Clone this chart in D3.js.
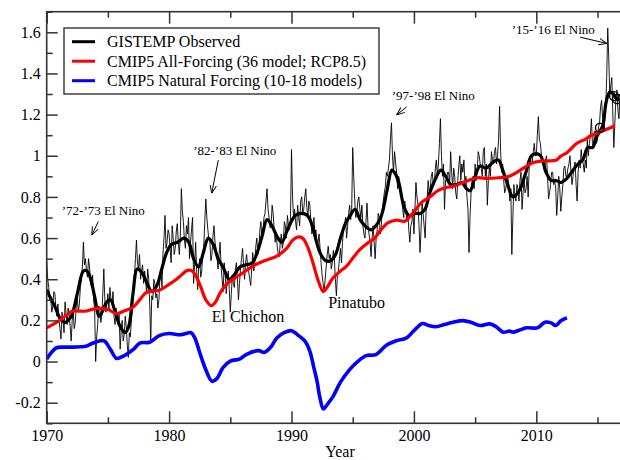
<!DOCTYPE html>
<html><head><meta charset="utf-8">
<script src="https://cdn.jsdelivr.net/npm/d3@7"></script>
<style>
body{margin:0;background:#fff}
svg{display:block}
text{font-family:"Liberation Serif","Times New Roman",serif;fill:#000}
</style>
</head><body>
<svg id="chart" width="620" height="460"></svg>
<script>
// ---------------- DATA ----------------
// GISTEMP observed, thin line: monthly samples starting Jan 1970
const thinStartYear = 1970;
const thinStepsPerYear = 12;
const thinValues = [
  0.49,0.40,0.36,0.30,0.30,0.24,0.27,0.34,0.33,0.26,0.22,0.28, // 1970
  0.21,0.16,0.11,0.24,0.20,0.14,0.29,0.23,0.18,0.26,0.22,0.17, // 1971
  0.10,0.20,0.24,0.16,0.19,0.27,0.31,0.24,0.28,0.36,0.40,0.46, // 1972
  0.58,0.47,0.50,0.44,0.41,0.50,0.46,0.38,0.36,0.42,0.30,0.25, // 1973
  0.00,0.12,0.18,0.27,0.26,0.19,0.22,0.33,0.45,0.30,0.24,0.28, // 1974
  0.33,0.25,0.36,0.30,0.28,0.34,0.22,0.18,0.26,0.20,0.18,0.23, // 1975
  0.06,0.15,0.20,0.10,0.13,0.22,0.17,0.08,0.02,0.14,0.12,0.20, // 1976
  0.25,0.36,0.42,0.50,0.59,0.48,0.45,0.52,0.40,0.44,0.47,0.38, // 1977
  0.44,0.39,0.33,0.45,0.40,0.28,0.09,0.32,0.30,0.40,0.38,0.31, // 1978
  0.33,0.26,0.30,0.41,0.44,0.36,0.52,0.60,0.71,0.55,0.58,0.64, // 1979
  0.62,0.55,0.48,0.66,0.60,0.52,0.55,0.63,0.67,0.58,0.52,0.61, // 1980
  0.84,0.73,0.68,0.59,0.55,0.66,0.62,0.70,0.50,0.58,0.64,0.70, // 1981
  0.38,0.47,0.58,0.44,0.35,0.46,0.50,0.41,0.44,0.52,0.56,0.68, // 1982
  0.79,0.70,0.64,0.59,0.58,0.49,0.52,0.61,0.66,0.58,0.55,0.50, // 1983
  0.45,0.52,0.58,0.46,0.40,0.34,0.48,0.43,0.33,0.40,0.44,0.35, // 1984
  0.24,0.33,0.42,0.38,0.36,0.45,0.48,0.40,0.30,0.38,0.45,0.50, // 1985
  0.55,0.47,0.40,0.48,0.52,0.46,0.44,0.40,0.37,0.45,0.53,0.44, // 1986
  0.48,0.56,0.60,0.52,0.55,0.64,0.68,0.60,0.62,0.70,0.72,0.78, // 1987
  0.84,0.74,0.70,0.65,0.66,0.76,0.72,0.64,0.58,0.62,0.56,0.52, // 1988
  0.51,0.58,0.62,0.55,0.58,0.68,0.66,0.60,0.71,0.66,0.64,0.70, // 1989
  1.03,0.80,0.70,0.74,0.68,0.64,0.76,0.70,0.66,0.78,0.80,0.72, // 1990
  0.74,0.80,0.84,0.75,0.70,0.78,0.76,0.68,0.62,0.66,0.70,0.62, // 1991
  0.64,0.56,0.58,0.62,0.55,0.48,0.42,0.38,0.34,0.40,0.46,0.52, // 1992
  0.56,0.50,0.52,0.45,0.48,0.54,0.50,0.40,0.32,0.42,0.44,0.50, // 1993
  0.55,0.48,0.58,0.64,0.66,0.70,0.60,0.66,0.72,0.76,0.69,0.74, // 1994
  1.04,0.90,0.78,0.70,0.72,0.78,0.80,0.74,0.70,0.76,0.66,0.62, // 1995
  0.60,0.68,0.77,0.66,0.62,0.58,0.51,0.60,0.66,0.58,0.50,0.60, // 1996
  0.64,0.72,0.70,0.62,0.66,0.74,0.78,0.82,0.85,0.92,0.90,0.94, // 1997
  0.98,1.08,1.16,1.00,0.92,1.02,0.97,0.92,0.84,0.90,0.88,0.82, // 1998
  0.80,0.74,0.70,0.78,0.74,0.68,0.72,0.64,0.58,0.66,0.68,0.74, // 1999
  0.62,0.74,0.87,0.80,0.76,0.66,0.53,0.64,0.78,0.72,0.66,0.60, // 2000
  0.74,0.80,0.88,0.82,0.84,0.90,0.92,0.86,0.86,0.94,0.98,0.90, // 2001
  0.96,1.06,1.18,1.00,0.90,0.96,0.74,0.88,0.88,0.92,0.92,0.86, // 2002
  1.02,0.92,0.84,0.94,0.90,0.82,0.79,0.88,0.95,1.00,0.88,0.96, // 2003
  0.92,0.98,0.86,0.90,0.80,0.74,0.53,0.70,0.82,0.88,0.90,0.84, // 2004
  0.96,0.88,0.92,1.02,1.00,0.96,0.94,0.90,1.02,1.04,0.90,0.96, // 2005
  0.76,0.88,0.94,0.90,1.02,0.98,0.96,1.02,1.04,0.96,1.00,1.08, // 2006
  1.24,1.02,0.92,0.96,0.88,0.82,0.84,0.88,0.90,0.86,0.78,0.84, // 2007
  0.52,0.70,0.86,0.80,0.78,0.86,0.84,0.78,0.88,0.92,0.74,0.82, // 2008
  0.88,0.82,0.84,0.90,0.80,0.94,1.00,0.96,0.97,1.02,1.06,1.00, // 2009
  1.00,1.10,1.19,1.08,1.06,1.00,0.98,0.96,0.92,0.98,1.00,0.90, // 2010
  0.79,0.82,0.86,0.92,0.92,0.86,0.88,0.84,0.71,0.80,0.90,0.84, // 2011
  0.73,0.80,0.86,0.94,0.95,0.90,0.90,0.94,0.96,1.00,0.92,0.86, // 2012
  0.90,0.94,0.97,0.86,0.78,0.92,0.98,0.94,1.03,0.98,0.96,0.92, // 2013
  0.98,0.94,1.08,1.00,1.06,1.10,1.18,1.06,1.04,1.12,1.12,1.06, // 2014
  1.08,1.14,1.16,1.24,1.27,1.18,1.12,1.20,1.24,1.38,1.62,1.48, // 2015
  1.30,1.34,1.38,1.20,1.04,1.16,1.28,1.32,1.22,1.18,1.30,1.26  // 2016
];

// GISTEMP observed, smoothed (thick black)
const smoothYears = [1970.0,1970.3,1970.65,1971.1,1971.5,1972.0,1972.5,1973.0,1973.3,1973.6,1973.9,1974.3,1974.6,1974.9,1975.2,1975.6,1976.0,1976.4,1976.7,1977.05,1977.4,1977.8,1978.2,1978.6,1979.0,1979.4,1979.8,1980.2,1980.7,1981.2,1981.6,1982.0,1982.4,1982.8,1983.2,1983.6,1984.0,1984.4,1984.9,1985.3,1985.8,1986.3,1986.8,1987.2,1987.6,1988.0,1988.4,1988.8,1989.2,1989.6,1989.9,1990.3,1990.8,1991.3,1991.7,1992.0,1992.4,1992.8,1993.2,1993.6,1994.0,1994.4,1994.8,1995.2,1995.6,1996.0,1996.5,1996.9,1997.35,1997.8,1998.2,1998.5,1998.8,1999.2,1999.6,2000.1,2000.5,2000.9,2001.3,2001.7,2002.2,2002.6,2003.0,2003.5,2003.9,2004.3,2004.6,2005.0,2005.4,2005.9,2006.5,2006.9,2007.2,2007.6,2008.1,2008.6,2009.1,2009.6,2010.0,2010.35,2010.8,2011.2,2011.6,2012.0,2012.5,2013.0,2013.4,2013.8,2014.2,2014.6,2014.9,2015.2,2015.45,2015.7,2016.0,2016.3,2016.5,2016.8];
const smoothValues = [0.35,0.31,0.27,0.21,0.19,0.22,0.33,0.44,0.44,0.40,0.32,0.22,0.25,0.29,0.30,0.24,0.17,0.14,0.17,0.33,0.45,0.43,0.38,0.34,0.37,0.45,0.53,0.57,0.58,0.60,0.58,0.50,0.46,0.53,0.60,0.57,0.50,0.46,0.40,0.42,0.46,0.47,0.48,0.53,0.61,0.69,0.66,0.61,0.58,0.63,0.67,0.71,0.72,0.71,0.66,0.59,0.52,0.49,0.49,0.52,0.60,0.67,0.71,0.74,0.69,0.66,0.64,0.66,0.71,0.83,0.93,0.91,0.86,0.75,0.71,0.72,0.72,0.74,0.82,0.88,0.93,0.90,0.86,0.86,0.87,0.84,0.83,0.90,0.95,0.94,0.97,0.98,0.94,0.87,0.80,0.83,0.91,1.00,1.01,1.00,0.92,0.88,0.88,0.87,0.89,0.93,0.96,0.98,1.04,1.04,1.09,1.12,1.15,1.26,1.31,1.30,1.28,1.27];

// CMIP5 All-Forcing (red)
const allForcingYears = [1970.0,1970.8,1971.5,1972.1,1972.7,1973.2,1973.8,1974.3,1975.0,1975.7,1976.4,1977.05,1977.6,1978.1,1978.6,1979.2,1980.0,1980.6,1981.0,1981.5,1981.9,1982.2,1982.6,1983.0,1983.45,1983.8,1984.1,1984.6,1985.2,1986.0,1986.85,1987.8,1988.8,1989.6,1990.1,1990.5,1990.9,1991.3,1991.75,1992.2,1992.6,1992.9,1993.4,1994.0,1994.5,1995.1,1995.6,1996.2,1996.8,1997.3,1997.9,1998.6,1999.25,1999.9,2000.6,2001.3,2002.0,2002.6,2003.3,2004.2,2005.2,2006.0,2006.9,2007.8,2008.6,2009.2,2009.7,2010.5,2011.6,2012.0,2012.5,2013.3,2014.0,2014.4,2015.2,2015.8,2016.4];
const allForcingValues = [0.164,0.19,0.22,0.245,0.245,0.245,0.255,0.258,0.253,0.233,0.248,0.264,0.30,0.334,0.342,0.347,0.375,0.40,0.42,0.443,0.44,0.415,0.36,0.30,0.272,0.29,0.326,0.37,0.399,0.43,0.464,0.49,0.512,0.55,0.59,0.605,0.60,0.56,0.48,0.39,0.34,0.36,0.407,0.44,0.464,0.51,0.545,0.575,0.60,0.64,0.675,0.687,0.682,0.72,0.772,0.80,0.832,0.845,0.853,0.875,0.893,0.89,0.893,0.90,0.926,0.95,0.966,0.975,0.978,0.998,1.015,1.06,1.08,1.096,1.115,1.13,1.146];

// CMIP5 Natural Forcing (blue)
const naturalYears = [1970.0,1970.4,1970.8,1971.5,1972.2,1972.8,1973.2,1973.8,1974.3,1974.7,1975.2,1975.7,1976.1,1976.5,1977.1,1977.6,1978.4,1979.2,1980.0,1980.9,1981.3,1981.8,1982.1,1982.5,1983.0,1983.5,1983.9,1984.4,1985.0,1985.8,1986.3,1987.3,1987.8,1988.3,1988.8,1989.4,1990.0,1990.5,1991.1,1991.5,1991.8,1992.1,1992.3,1992.6,1992.9,1993.4,1994.0,1994.75,1995.4,1996.1,1996.9,1997.75,1998.5,1999.4,2000.0,2000.7,2001.2,2001.8,2002.5,2003.2,2004.0,2004.7,2005.4,2006.2,2006.7,2007.3,2007.8,2008.1,2008.6,2009.2,2010.1,2010.7,2011.2,2011.6,2012.0,2012.5];
const naturalValues = [0.013,0.045,0.067,0.07,0.07,0.072,0.074,0.09,0.10,0.10,0.06,0.015,0.022,0.034,0.06,0.09,0.094,0.126,0.136,0.13,0.135,0.14,0.115,0.044,-0.04,-0.096,-0.083,-0.03,0.002,0.013,0.034,0.053,0.045,0.07,0.115,0.14,0.15,0.13,0.099,0.05,-0.023,-0.10,-0.169,-0.23,-0.21,-0.169,-0.10,-0.039,0.0,0.029,0.034,0.079,0.10,0.115,0.15,0.185,0.175,0.169,0.18,0.191,0.199,0.19,0.175,0.183,0.17,0.143,0.148,0.143,0.152,0.164,0.164,0.191,0.188,0.175,0.198,0.212];

// open circle markers on the observed curve
const markerYears = [2015.2, 2016.35, 2016.6];
const markerValues = [1.136, 1.29, 1.275];

// axes
const xMajorTicks = [1970, 1980, 1990, 2000, 2010];
const xMinorTicks = [1975, 1985, 1995, 2005, 2015];
const yMajorTicks = [-0.2, 0, 0.2, 0.4, 0.6, 0.8, 1.0, 1.2, 1.4, 1.6];
const yMajorLabels = ["-0.2", "0", "0.2", "0.4", "0.6", "0.8", "1", "1.2", "1.4", "1.6"];
const yMinorTicks = [-0.3, -0.1, 0.1, 0.3, 0.5, 0.7, 0.9, 1.1, 1.3, 1.5, 1.7];
const xAxisTitle = "Year";

// legend
const legendLabels = ["GISTEMP Observed", "CMIP5 All-Forcing (36 model; RCP8.5)", "CMIP5 Natural Forcing (10-18 models)"];
const legendColors = ["#000000", "#ff0000", "#0000ff"];

// annotations (data coordinates)
const noteTexts = ["’72-’73 El Nino", "’82-’83 El Nino", "’97-’98 El Nino", "’15-’16 El Nino"];
const noteAt = [[1971.23, 0.712], [1981.97, 1.004], [1998.19, 1.271], [2007.99, 1.592]];
const noteArrowFrom = [[1974.22, 0.68], [1984.02, 0.979], [1999.41, 1.238], [2013.59, 1.576]];
const noteArrowTo = [[1973.68, 0.615], [1983.48, 0.818], [1998.59, 1.198], [2015.75, 1.546]];
const volcanoTexts = ["El Chichon", "Pinatubo"];
const volcanoAt = [[1983.48, 0.194], [1993.0, 0.259]];

// ---------------- CHART ----------------
const svg = d3.select("#chart");
const L = 46.7, R = 622, T = 11.7, B = 423.3;
const x = d3.scaleLinear().domain([1970, 2017]).range([L, R]);
const y = d3.scaleLinear().domain([-0.3, 1.7]).range([B, T]);

const defs = svg.append("defs");
defs.append("clipPath").attr("id", "clip").append("rect")
  .attr("x", L).attr("y", T).attr("width", R - L).attr("height", B - T);
defs.append("marker").attr("id", "arrow").attr("viewBox", "0 0 10 10")
  .attr("refX", 10).attr("refY", 5).attr("markerWidth", 8).attr("markerHeight", 8)
  .attr("markerUnits", "userSpaceOnUse").attr("orient", "auto")
  .append("path").attr("d", "M0,1 L10,5 L0,9").attr("fill", "none").attr("stroke", "#000").attr("stroke-width", 1.2);

const plot = svg.append("g").attr("clip-path", "url(#clip)");

const thinData = thinValues.map((v, i) => [thinStartYear + i / thinStepsPerYear, v]);
const zip = (a, b) => a.map((t, i) => [t, b[i]]);

const lineLin = d3.line().x(d => x(d[0])).y(d => y(d[1]));
const lineSmooth = d3.line().x(d => x(d[0])).y(d => y(d[1])).curve(d3.curveCatmullRom.alpha(0.5));

plot.append("path").datum(thinData).attr("d", lineLin)
  .attr("fill", "none").attr("stroke", "#000").attr("stroke-width", 0.9).attr("stroke-linejoin", "round");
plot.append("path").datum(zip(smoothYears, smoothValues)).attr("d", lineSmooth)
  .attr("fill", "none").attr("stroke", "#000").attr("stroke-width", 3.2).attr("stroke-linejoin", "round");
plot.append("path").datum(zip(allForcingYears, allForcingValues)).attr("d", lineSmooth)
  .attr("fill", "none").attr("stroke", "#ff0000").attr("stroke-width", 3.2).attr("stroke-linejoin", "round");
plot.append("path").datum(zip(naturalYears, naturalValues)).attr("d", lineSmooth)
  .attr("fill", "none").attr("stroke", "#0000ff").attr("stroke-width", 3.6).attr("stroke-linejoin", "round");

plot.selectAll("circle.mk").data(zip(markerYears, markerValues)).enter().append("circle")
  .attr("cx", d => x(d[0])).attr("cy", d => y(d[1])).attr("r", 4.5)
  .attr("fill", "none").attr("stroke", "#000").attr("stroke-width", 1.4);

// axes
const axisColor = "#333";
function styleAxis(g) {
  g.select(".domain").remove();
  g.selectAll("line").attr("stroke", axisColor).attr("stroke-width", 1.5);
  g.selectAll("text").style("font-family", '"Liberation Serif","Times New Roman",serif').style("font-size", "16px").attr("fill", "#000");
}
svg.append("g").attr("transform", `translate(${L},0)`)
  .call(d3.axisLeft(y).tickValues(yMajorTicks).tickSize(-11).tickPadding(6).tickFormat((d, i) => yMajorLabels[i]))
  .call(styleAxis);
svg.append("g").attr("transform", `translate(${L},0)`)
  .call(d3.axisLeft(y).tickValues(yMinorTicks).tickSize(-6).tickFormat(""))
  .call(styleAxis);
svg.append("g").attr("transform", `translate(0,${B})`)
  .call(d3.axisBottom(x).tickValues(xMajorTicks).tickSize(-12).tickPadding(6).tickFormat(d3.format("d")))
  .call(styleAxis);
svg.append("g").attr("transform", `translate(0,${B})`)
  .call(d3.axisBottom(x).tickValues(xMinorTicks).tickSize(-6).tickFormat(""))
  .call(styleAxis);
svg.append("g").attr("transform", `translate(0,${T})`)
  .call(d3.axisTop(x).tickValues(xMajorTicks).tickSize(-12).tickFormat(""))
  .call(styleAxis);
svg.append("g").attr("transform", `translate(0,${T})`)
  .call(d3.axisTop(x).tickValues(xMinorTicks).tickSize(-6).tickFormat(""))
  .call(styleAxis);

// frame
svg.append("rect").attr("x", L).attr("y", T).attr("width", R - L).attr("height", B - T)
  .attr("fill", "none").attr("stroke", axisColor).attr("stroke-width", 1.6);

svg.append("text").attr("x", 340).attr("y", 457).attr("text-anchor", "middle")
  .style("font-size", "16px").text(xAxisTitle);

// legend
const lg = svg.append("g");
lg.append("rect").attr("x", 64).attr("y", 28).attr("width", 315).attr("height", 66)
  .attr("fill", "#fff").attr("stroke", axisColor).attr("stroke-width", 1.4);
legendLabels.forEach((lab, i) => {
  const yy = 41.7 + i * 19.5;
  lg.append("line").attr("x1", 72).attr("x2", 95).attr("y1", yy).attr("y2", yy)
    .attr("stroke", legendColors[i]).attr("stroke-width", 3);
  lg.append("text").attr("x", 107).attr("y", yy + 5.5).style("font-size", "16px").text(lab);
});

// annotations
noteTexts.forEach((t, i) => {
  svg.append("text").attr("x", x(noteAt[i][0])).attr("y", y(noteAt[i][1]))
    .style("font-size", "13px").text(t);
  svg.append("line")
    .attr("x1", x(noteArrowFrom[i][0])).attr("y1", y(noteArrowFrom[i][1]))
    .attr("x2", x(noteArrowTo[i][0])).attr("y2", y(noteArrowTo[i][1]))
    .attr("stroke", "#000").attr("stroke-width", 1).attr("marker-end", "url(#arrow)");
});
volcanoTexts.forEach((t, i) => {
  svg.append("text").attr("x", x(volcanoAt[i][0])).attr("y", y(volcanoAt[i][1]))
    .style("font-size", "16px").text(t);
});
</script>
</body></html>
